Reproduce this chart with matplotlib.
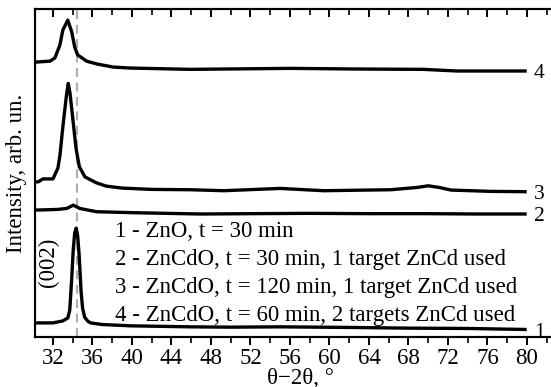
import matplotlib
matplotlib.use("Agg")
import matplotlib.pyplot as plt
from matplotlib.ticker import MultipleLocator

plt.rcParams['font.family'] = ['Liberation Serif', 'DejaVu Serif']

# XRD scans (2theta in degrees, intensity in arb. units, curves stacked)
tt_1 = [30.2, 31.0, 32.0, 33.0, 33.5, 33.7, 33.9, 34.05, 34.2, 34.35, 34.5, 34.65,
        34.85, 35.0, 35.2, 35.5, 35.8, 37.0, 39.9, 42.0, 45.9, 50.0, 55.0, 62.5,
        68.0, 74.0, 79.8]
int_1 = [4.3, 4.3, 4.3, 4.9, 5.8, 8.2, 18.0, 26.5, 31.7, 33.2, 30.8, 25.0,
         13.7, 8.8, 6.1, 4.9, 4.3, 3.8, 3.4, 3.3, 3.1, 3.0, 3.1, 2.9,
         2.7, 2.6, 2.3]

tt_2 = [30.2, 31.5, 32.5, 33.4, 34.06, 34.7, 36.4, 40.1, 46.9, 52.0, 58.0, 64.0,
        70.0, 75.0, 79.8]
int_2 = [38.7, 38.8, 38.9, 39.2, 40.2, 39.2, 38.2, 37.9, 37.5, 37.6, 37.7, 37.6,
         37.6, 37.5, 37.5]

tt_3 = [30.2, 30.5, 31.0, 32.0, 32.5, 32.71, 33.04, 33.39, 33.55, 33.72, 34.0,
        34.33, 34.67, 35.24, 36.4, 37.4, 39.0, 42.0, 45.9, 49.3, 55.0, 59.4,
        66.2, 68.9, 70.0, 71.1, 72.3, 76.3, 79.8]
int_3 = [47.3, 47.3, 48.2, 48.2, 51.5, 55.5, 65.2, 74.3, 77.3, 74.4, 66.8,
         57.6, 51.9, 48.8, 47.0, 46.0, 45.4, 45.0, 44.9, 44.6, 45.3, 44.6,
         44.9, 45.6, 46.1, 45.6, 44.8, 44.4, 44.3]

tt_4 = [30.2, 31.7, 32.2, 32.7, 33.0, 33.5, 33.9, 34.2, 34.5, 35.4, 36.5, 38.1,
        39.8, 45.9, 56.0, 62.8, 69.5, 72.9, 79.8]
int_4 = [83.8, 84.1, 85.1, 89.0, 93.6, 96.6, 93.0, 88.4, 86.0, 84.1, 83.2, 82.3,
         82.0, 81.6, 81.9, 81.7, 81.6, 81.1, 81.1]

curve_ids = ['1', '2', '3', '4']
legend_lines = [
    '1 - ZnO, t = 30 min',
    '2 - ZnCdO, t = 30 min, 1 target ZnCd used',
    '3 - ZnCdO, t = 120 min, 1 target ZnCd used',
    '4 - ZnCdO, t = 60 min, 2 targets ZnCd used',
]
zno_002 = 34.4
x_ticks = list(range(32, 81, 4))
x_range = (30.18, 82.43)

W, H = 551, 387
fig = plt.figure(figsize=(W / 100, H / 100), dpi=100)
ax = fig.add_axes([35 / W, 1 - 337 / H, (W - 35) / W, 328 / H])
ax.set_xlim(*x_range)
ax.set_ylim(0, 100)

ax.axvline(zno_002, color='#b0b0b0', lw=1.6, ls=(0, (4, 2.5)), zorder=1)

series = [(tt_1, int_1), (tt_2, int_2), (tt_3, int_3), (tt_4, int_4)]
for (x, y), cid in zip(series, curve_ids):
    ax.plot(x, y, color='black', lw=2.4, solid_joinstyle='round', zorder=3)
    ax.text(x[-1] + 0.9, y[-1] - 0.8, cid, fontsize=15.5, ha='left', va='center')

fs = 16.5
for i, line in enumerate(legend_lines):
    ax.text(38.25, (337 - (232 + 27.7 * i)) / 3.28, line, fontsize=fs,
            ha='left', va='center')

ax.text(31.55, (337 - 262) / 3.28, '(002)', rotation=90, fontsize=fs,
        ha='center', va='center')

# bottom axis: ticks pointing outward
ax.set_xticks(x_ticks)
ax.xaxis.set_minor_locator(MultipleLocator(2))
ax.tick_params(axis='x', which='major', direction='out', length=6, width=1.4,
               labelsize=fs, pad=2)
ax.tick_params(axis='x', which='minor', direction='out', length=4, width=1.2)
ax.set_yticks([])

# top axis: same ticks pointing inward, no labels
top = ax.twiny()
top.set_xlim(*x_range)
top.set_xticks(x_ticks)
top.xaxis.set_minor_locator(MultipleLocator(2))
top.tick_params(axis='x', which='major', direction='in', length=5.5, width=1.4,
                top=True, labeltop=False)
top.tick_params(axis='x', which='minor', direction='in', length=4, width=1.2,
                top=True)

for a in (ax, top):
    a.spines['right'].set_visible(False)
    for s in ['left', 'top', 'bottom']:
        a.spines[s].set_linewidth(1.5)

fig.text(300 / W, 1 - 378 / H, 'θ−2θ, °', fontsize=fs, ha='center', va='center')
ax.set_ylabel('Intensity, arb. un.', fontsize=fs, labelpad=6)

fig.savefig('out.png', dpi=100)
